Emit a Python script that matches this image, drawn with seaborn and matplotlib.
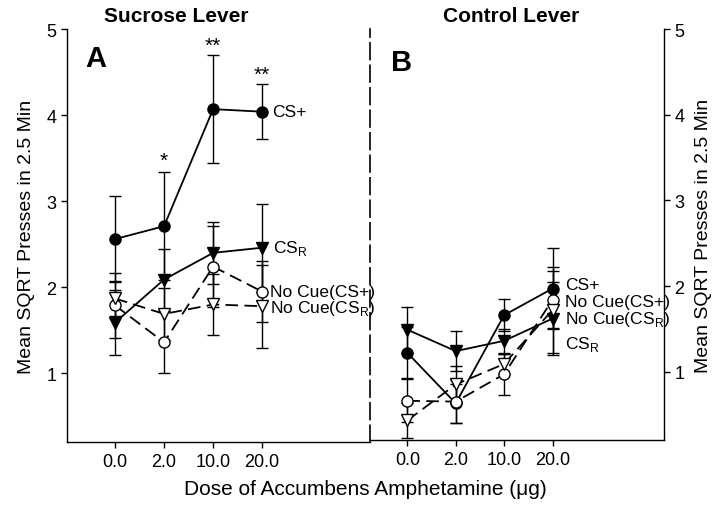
import numpy as np
import pandas as pd
import matplotlib
matplotlib.use("Agg")
import matplotlib.pyplot as plt
import seaborn as sns

# Dose categories (x axis)
doses = ["0.0", "2.0", "10.0", "20.0"]

# Panel A - sucrose lever: means and SEMs
suc_csplus = [2.56, 2.71, 4.07, 4.04]
suc_csplus_err = [0.50, 0.63, 0.63, 0.32]
suc_csr = [1.59, 2.09, 2.40, 2.46]
suc_csr_err = [0.38, 0.36, 0.36, 0.51]
suc_nocue_csplus = [1.79, 1.36, 2.24, 1.95]
suc_nocue_csplus_err = [0.38, 0.36, 0.47, 0.35]
suc_nocue_csr = [1.87, 1.69, 1.80, 1.78]
suc_nocue_csr_err = [0.20, 0.30, 0.35, 0.48]

# Panel B - control lever
con_csplus = [1.22, 0.63, 1.66, 1.97]
con_csplus_err = [0.30, 0.23, 0.19, 0.47]
con_csr = [1.49, 1.24, 1.36, 1.62]
con_csr_err = [0.27, 0.23, 0.14, 0.43]
con_nocue_csplus = [0.66, 0.65, 0.97, 1.84]
con_nocue_csplus_err = [0.25, 0.25, 0.24, 0.33]
con_nocue_csr = [0.43, 0.85, 1.09, 1.72]
con_nocue_csr_err = [0.20, 0.22, 0.12, 0.50]

series_names = ["CS+", "CS$_\\mathregular{R}$", "No Cue(CS+)", "No Cue(CS$_\\mathregular{R}$)"]

sns.set_style("ticks")
plt.rcParams['font.family'] = ['Liberation Sans', 'DejaVu Sans']
plt.rcParams['mathtext.fontset'] = 'custom'
plt.rcParams['mathtext.rm'] = 'Liberation Sans'
plt.rcParams['text.color'] = 'black'
plt.rcParams['axes.labelcolor'] = 'black'
plt.rcParams['xtick.color'] = 'black'
plt.rcParams['ytick.color'] = 'black'

fig = plt.figure(figsize=(7.2, 5.1), dpi=100)
ax_a = fig.add_axes([0.093, 0.131, 0.421, 0.810])
ax_b = fig.add_axes([0.514, 0.135, 0.408, 0.806])
ax_b.patch.set_visible(False)

styles = [
    dict(marker="o", mfc="black", ls="-"),
    dict(marker="v", mfc="black", ls="-"),
    dict(marker="o", mfc="white", ls=(0, (7, 3.5))),
    dict(marker="v", mfc="white", ls=(0, (7, 3.5))),
]


def draw_panel(ax, means, errs):
    for i, (m, e) in enumerate(zip(means, errs)):
        st = styles[i]
        ax.errorbar(doses, m, yerr=e, fmt="none", ecolor="black",
                    elinewidth=1.0, capsize=4, capthick=1.0, zorder=2)
        df = pd.DataFrame({"dose": doses, "value": m})
        sns.lineplot(data=df, x="dose", y="value", ax=ax, color="black",
                     linewidth=1.3, linestyle=st["ls"], marker=st["marker"],
                     markersize=8, markerfacecolor=st["mfc"],
                     markeredgecolor="black", markeredgewidth=1.0,
                     zorder=3 + i, sort=False)


draw_panel(ax_a, [suc_csplus, suc_csr, suc_nocue_csplus, suc_nocue_csr],
           [suc_csplus_err, suc_csr_err, suc_nocue_csplus_err, suc_nocue_csr_err])
draw_panel(ax_b, [con_csplus, con_csr, con_nocue_csplus, con_nocue_csr],
           [con_csplus_err, con_csr_err, con_nocue_csplus_err, con_nocue_csr_err])

lbl_fs = 12.5
# Series labels, panel A
ax_a.text(3.2, suc_csplus[3], series_names[0], fontsize=lbl_fs, va="center", clip_on=False)
ax_a.text(3.22, suc_csr[3], series_names[1], fontsize=lbl_fs, va="center", clip_on=False)
ax_a.text(3.15, suc_nocue_csplus[3], series_names[2], fontsize=lbl_fs, va="center", clip_on=False)
ax_a.text(3.15, suc_nocue_csr[3] - 0.02, series_names[3], fontsize=lbl_fs, va="center", clip_on=False)
# Series labels, panel B
ax_b.text(3.25, 2.02, series_names[0], fontsize=lbl_fs, va="center")
ax_b.text(3.25, 1.82, series_names[2], fontsize=lbl_fs, va="center")
ax_b.text(3.25, 1.62, series_names[3], fontsize=lbl_fs, va="center")
ax_b.text(3.25, 1.33, series_names[1], fontsize=lbl_fs, va="center")

# significance stars
ax_a.text(1, 3.36, "*", fontsize=15, ha="center", va="bottom")
ax_a.text(2, 4.70, "**", fontsize=15, ha="center", va="bottom")
ax_a.text(3, 4.36, "**", fontsize=15, ha="center", va="bottom")

for ax in (ax_a, ax_b):
    ax.set_ylim(0.2, 5)
    ax.set_yticks([1, 2, 3, 4, 5])
    ax.set_xlabel("")
    ax.set_ylabel("")
    ax.tick_params(axis="both", labelsize=13, length=4, width=1, color="black")
    for sp in ax.spines.values():
        sp.set_color("black")
        sp.set_linewidth(1.0)

ax_a.set_xlim(-0.98, 5.2)
ax_b.set_xlim(-0.77, 5.3)

ax_a.spines["top"].set_visible(False)
ax_a.spines["right"].set_linestyle((0, (10, 3.5)))
ax_a.spines["right"].set_linewidth(1.2)
ax_b.spines["top"].set_visible(False)
ax_b.spines["left"].set_visible(False)
ax_b.yaxis.tick_right()
ax_b.yaxis.set_label_position("right")

ax_a.set_ylabel("Mean SQRT Presses in 2.5 Min", fontsize=14, labelpad=8)
ax_b.set_ylabel("Mean SQRT Presses in 2.5 Min", fontsize=14, labelpad=8, rotation=90)

ax_a.set_title("Sucrose Lever", fontsize=15, fontweight="bold", pad=6, x=0.36)
ax_b.set_title("Control Lever", fontsize=15, fontweight="bold", pad=6, x=0.48)

ax_a.text(0.06, 0.93, "A", transform=ax_a.transAxes, fontsize=21, fontweight="bold", va="center")
ax_b.text(0.07, 0.92, "B", transform=ax_b.transAxes, fontsize=21, fontweight="bold", va="center")

fig.text(0.507, 0.04, "Dose of Accumbens Amphetamine (\u03bcg)", fontsize=15, ha="center", va="center")

fig.savefig("out.png", dpi=100)
